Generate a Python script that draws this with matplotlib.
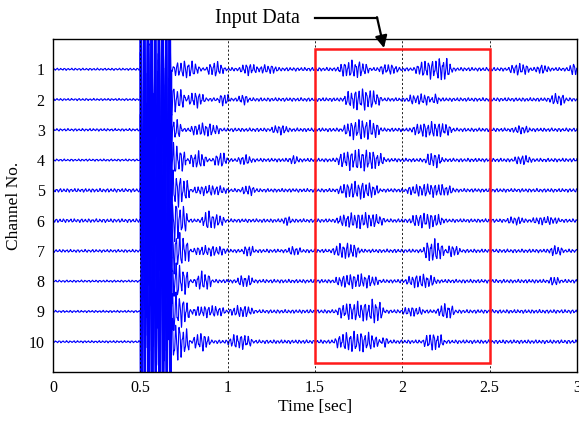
import numpy as np
import matplotlib
matplotlib.use("Agg")
import matplotlib.pyplot as plt
from matplotlib.patches import Rectangle

plt.rcParams['font.family'] = ['Liberation Serif', 'DejaVu Serif']

# --- data ---
channels = [1, 2, 3, 4, 5, 6, 7, 8, 9, 10]
x_ticks = [0, 0.5, 1, 1.5, 2, 2.5, 3]
x_tick_labels = ['0', '0.5', '1', '1.5', '2', '2.5', '3']

# pre-event noise level and coda floor (channel units)
noise_level = [0.03, 0.03, 0.035, 0.03, 0.05, 0.05, 0.04, 0.03, 0.03, 0.03]
coda_floor = [0.05, 0.05, 0.05, 0.05, 0.05, 0.05, 0.05, 0.05, 0.05, 0.05]

# main saturated burst: start, end, amplitude
burst_start = 0.5
burst_end = 0.68
burst_amp = 5.0
# tail of the burst after it ends (amplitude, end time)
tail_amp = [0.0, 0.45, 0.4, 0.55, 0.6, 0.7, 0.7, 0.65, 0.65, 0.7]
tail_end = [0.68, 0.76, 0.74, 0.76, 0.78, 0.77, 0.78, 0.78, 0.78, 0.78]

# wave packets per channel: (centre time, half width, amplitude)
packets = [
    [(0.76, 0.08, 0.2), (0.93, 0.05, 0.17), (1.12, 0.05, 0.12), (1.23, 0.06, 0.08),
     (1.72, 0.09, 0.2), (1.92, 0.06, 0.1), (2.18, 0.11, 0.22), (2.24, 0.04, 0.1),
     (2.67, 0.06, 0.12), (2.80, 0.04, 0.08), (2.98, 0.03, 0.12)],
    [(0.82, 0.05, 0.18), (0.98, 0.03, 0.14), (1.09, 0.03, 0.1), (1.77, 0.11, 0.26),
     (2.06, 0.03, 0.09), (2.12, 0.04, 0.12), (2.19, 0.02, 0.1), (2.89, 0.05, 0.12)],
    [(0.87, 0.09, 0.14), (1.30, 0.05, 0.09), (1.77, 0.11, 0.25), (2.17, 0.12, 0.17),
     (2.68, 0.05, 0.07)],
    [(0.83, 0.05, 0.2), (0.96, 0.04, 0.17), (1.10, 0.04, 0.1), (1.38, 0.03, 0.08),
     (1.76, 0.14, 0.26), (2.18, 0.05, 0.17), (2.69, 0.05, 0.09)],
    [(0.90, 0.10, 0.1), (1.12, 0.04, 0.1), (1.75, 0.12, 0.2), (2.16, 0.14, 0.14)],
    [(0.89, 0.04, 0.23), (0.95, 0.03, 0.14), (1.34, 0.03, 0.08), (1.76, 0.14, 0.18),
     (2.14, 0.10, 0.17), (2.65, 0.05, 0.07), (2.82, 0.08, 0.07)],
    [(0.90, 0.10, 0.1), (1.12, 0.03, 0.12), (1.38, 0.04, 0.08), (1.68, 0.08, 0.18),
     (2.18, 0.06, 0.28), (2.29, 0.04, 0.12), (2.88, 0.04, 0.1)],
    [(0.86, 0.05, 0.23), (1.10, 0.05, 0.12), (1.74, 0.13, 0.16), (2.11, 0.09, 0.15),
     (2.87, 0.03, 0.09)],
    [(0.89, 0.10, 0.12), (1.08, 0.07, 0.12), (1.76, 0.14, 0.23), (1.85, 0.04, 0.12),
     (2.06, 0.06, 0.09), (2.25, 0.05, 0.17)],
    [(0.85, 0.05, 0.21), (1.07, 0.07, 0.17), (1.74, 0.13, 0.25), (1.90, 0.02, 0.1),
     (2.18, 0.06, 0.2)],
]

# selected input window
win_t0, win_t1 = 1.5, 2.5
win_ch0, win_ch1 = 0.33, 10.7

t = np.arange(0, 3.0005, 0.0005)


def packet(tt, c, w, a):
    x = np.clip(1 - ((tt - c) / w) ** 2, 0, None)
    return a * x ** 0.6


fig = plt.figure(figsize=(5.79, 4.21), dpi=100)
ax = fig.add_axes([0.0915, 0.1164, 0.905, 0.791])

for i, ch in enumerate(channels):
    env = np.where(t < burst_start, noise_level[i], coda_floor[i])
    env = np.where((t >= burst_start) & (t < burst_end), burst_amp, env)
    if tail_amp[i] > 0:
        m = (t >= burst_end) & (t < tail_end[i])
        frac = (t[m] - burst_end) / (tail_end[i] - burst_end)
        env[m] = np.maximum(env[m], tail_amp[i] * (1 - 0.6 * frac))
    for c, w, a in packets[i]:
        env = env + packet(t, c, w, a)
    phase = 2 * np.pi * 48 * t + 0.35 * ch + 0.3 * np.sin(2 * np.pi * 1.7 * t + ch)
    mod = 0.55 + 0.45 * np.abs(np.cos(2 * np.pi * 11 * t + 1.3 * ch))
    wave = np.sin(phase) * mod + 0.25 * np.sin(2.3 * phase + ch)
    ax.plot(t, ch - env * wave, color='#0000ff', lw=0.8)

for xv in [0.5, 1, 1.5, 2, 2.5]:
    ax.axvline(xv, color='k', lw=0.6, ls=(0, (2.5, 2.5)), zorder=3)

ax.add_patch(Rectangle((win_t0, win_ch0), win_t1 - win_t0, win_ch1 - win_ch0,
                       fill=False, edgecolor='#ff1a1a', lw=1.8, zorder=4))

ax.set_xlim(0, 3)
ax.set_ylim(11, 0)
ax.set_xticks(x_ticks)
ax.set_xticklabels(x_tick_labels)
ax.set_yticks(channels)
ax.tick_params(direction='in', length=0, labelsize=11.5, pad=6)
for s in ax.spines.values():
    s.set_linewidth(1.0)

ax.set_xlabel('Time [sec]', fontsize=12.5, labelpad=2)
ax.set_ylabel('Channel No.', fontsize=12.5, labelpad=5)

# annotation
ax.text(1.17, -0.68, 'Input Data', fontsize=14.5, ha='center', va='center',
        clip_on=False)
ax.plot([1.50, 1.855], [-0.70, -0.70], color='k', lw=1.6, clip_on=False)
ax.annotate('', xy=(1.895, 0.30), xytext=(1.855, -0.72),
            arrowprops=dict(arrowstyle='-|>', color='k', lw=1.6,
                            mutation_scale=18, shrinkA=0, shrinkB=0),
            annotation_clip=False)

fig.savefig('out.png', dpi=100)
